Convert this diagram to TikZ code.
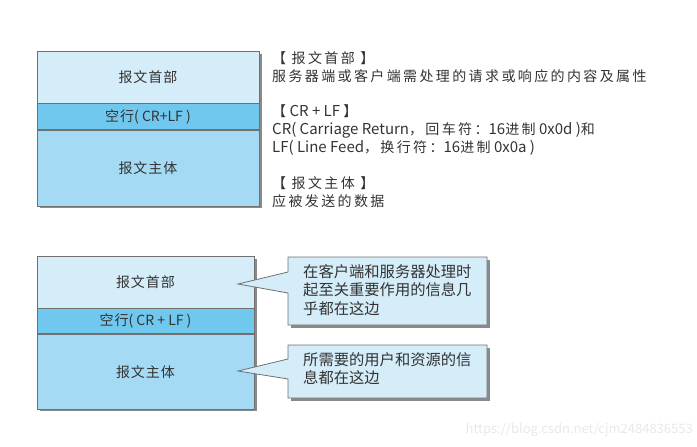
\documentclass[tikz,border=0pt]{standalone}
\usepackage{fontspec}
\setmainfont{Noto Sans CJK SC}
\newfontfamily\lat{Noto Sans CJK SC}
\definecolor{hdrc}{HTML}{D4EDF9}
\definecolor{blankc}{HTML}{70C8EE}
\definecolor{bodyc}{HTML}{A5DAF4}
\definecolor{edgec}{HTML}{707070}
\definecolor{shadc}{HTML}{8A8A8A}
\definecolor{txtc}{HTML}{333333}
\tikzset{
  part/.style={draw=edgec, line width=0.8pt, inner sep=0pt, text=txtc, font=\fontsize{14}{16}\selectfont\addfontfeature{LetterSpace=7}, minimum width=#1},
  desc/.style={anchor=west, inner sep=0pt, text=txtc, font=\fontsize{14}{18}\selectfont\addfontfeature{LetterSpace=17}},
  calltext/.style={anchor=north west, inner sep=0pt, text=txtc, align=left, font=\fontsize{15.3}{18.5}\selectfont},
  callshape/.style={draw=edgec, line width=0.8pt, fill=hdrc},
  shade/.style={fill=shadc, draw=none}
}
\begin{document}
\begin{tikzpicture}[x=1pt,y=-1pt]
\useasboundingbox (0,0) rectangle (697,447);
% ---------- top block ----------
\fill[shadc] (40,54) rectangle (262,208);
\node[part=222pt, minimum height=52pt, fill=hdrc] (h1) at (148,77) {报文首部};
\node[part=222pt, minimum height=26pt, fill=blankc, anchor=north] (b1) at (h1.south) {空行{\lat( CR+LF )}};
\node[part=222pt, minimum height=76pt, fill=bodyc, anchor=north] (m1) at (b1.south) {报文主体};
% ---------- description ----------
\node[desc] (d1) at (272,58) {【 报文首部 】};
\node[desc] (d2) at (272,76) {服务器端或客户端需处理的请求或响应的内容及属性};
\node[desc] (d3) at (272,111) {【{\lat\fontsize{15}{18}\selectfont\ CR + LF }】};
\node[desc] (d4) at (272,130) {{\lat\fontsize{15}{18}\selectfont CR( Carriage Return}，回车符：{\lat\fontsize{15}{18}\selectfont 16}进制{\lat\fontsize{15}{18}\selectfont\ 0x0d )}和};
\node[desc] (d5) at (272,148) {{\lat\fontsize{15}{18}\selectfont LF( Line Feed}，换行符：{\lat\fontsize{15}{18}\selectfont 16}进制{\lat\fontsize{15}{18}\selectfont\ 0x0a )}};
\node[desc] (d6) at (272,183) {【 报文主体 】};
\node[desc] (d7) at (272,201) {应被发送的数据};
% ---------- bottom block ----------
\fill[shadc] (40,259) rectangle (257,411);
\node[part=217pt, minimum height=52pt, fill=hdrc] (h2) at (145.5,282) {报文首部};
\node[part=217pt, minimum height=25pt, fill=blankc, anchor=north] (b2) at (h2.south) {空行{\lat( CR + LF )}};
\node[part=217pt, minimum height=75pt, fill=bodyc, anchor=north] (m2) at (b2.south) {报文主体};
% ---------- callouts ----------
\fill[shadc] (291,260) rectangle (490,328);
\path[callshape] (288,257) -- (487,257) -- (487,325) -- (288,325) -- (288,293) -- (238,284) -- (288,272) -- cycle;
\node[calltext] (c1) at (303,264) {在客户端和服务器处理时\\起至关重要作用的信息几\\乎都在这边};
\fill[shadc] (291,348) rectangle (490,401);
\path[callshape] (288,345) -- (487,345) -- (487,398) -- (288,398) -- (288,379) -- (238,371) -- (288,359) -- cycle;
\node[calltext] (c2) at (303,352) {所需要的用户和资源的信\\息都在这边};
% ---------- watermark ----------
\node[anchor=east, inner sep=0pt, text=black!9, font=\fontsize{13}{15}\selectfont] (wm) at (693,430) {https://blog.csdn.net/cjm2484836553};
\end{tikzpicture}
\end{document}
